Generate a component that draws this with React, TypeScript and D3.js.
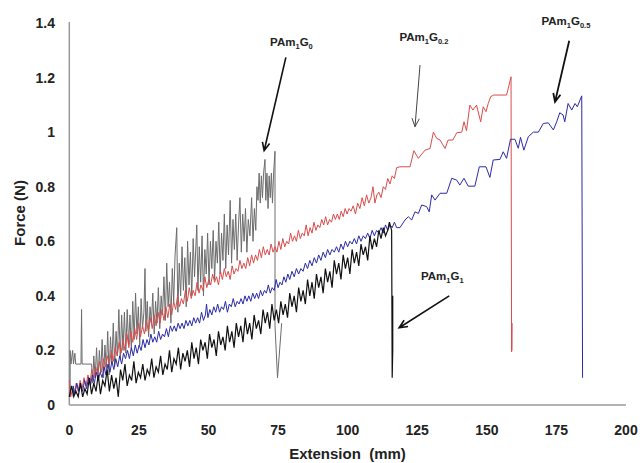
import * as d3 from "d3";

type Pt = [number, number];

// axis ticks
const xTicks = [0, 25, 50, 75, 100, 125, 150, 175, 200];
const yTicks = [0, 0.2, 0.4, 0.6, 0.8, 1, 1.2, 1.4];

// PAm1G0 (grey) – extension (mm), force (N)
const pam1g0: Pt[] = [
  [0.3, 0.03], [0.3, 0.2], [0.6, 0.15], [1.2, 0.2], [1.5, 0.15], [2.0, 0.19], [2.3, 0.15], [4.2, 0.15], [4.4, 0.35], [4.6, 0.15], [8.0, 0.15],
  [8.4, 0.08], [8.8, 0.18], [9.3, 0.1], [9.8, 0.21], [10.3, 0.09], [10.8, 0.2], [11.3, 0.12], [11.8, 0.24], [12.3, 0.1], [12.8, 0.22],
  [13.3, 0.13], [13.8, 0.27], [14.3, 0.11], [14.8, 0.25], [15.3, 0.15], [15.8, 0.3], [16.3, 0.14], [16.8, 0.27], [17.3, 0.18], [17.8, 0.35],
  [18.3, 0.17], [18.8, 0.33], [19.3, 0.2], [19.8, 0.34], [20.3, 0.19], [20.8, 0.35], [21.3, 0.22], [21.8, 0.33], [22.3, 0.2], [22.8, 0.38],
  [23.3, 0.24], [23.8, 0.41], [24.3, 0.26], [24.8, 0.36], [25.3, 0.22], [25.8, 0.39], [26.3, 0.28], [26.8, 0.34], [27.2, 0.5], [27.5, 0.27],
  [28.0, 0.38], [28.5, 0.25], [29.0, 0.36], [29.5, 0.3], [30.0, 0.41], [30.5, 0.26], [31.0, 0.38], [31.5, 0.3], [32.0, 0.43], [32.5, 0.28],
  [33.0, 0.4], [33.5, 0.33], [34.0, 0.47], [34.5, 0.31], [35.0, 0.52], [35.5, 0.36], [36.0, 0.45], [36.5, 0.3], [37.0, 0.5], [37.5, 0.38],
  [38.0, 0.55], [38.6, 0.65], [39.0, 0.34], [39.5, 0.52], [40.0, 0.4], [40.5, 0.58], [41.0, 0.42], [41.5, 0.54], [42.0, 0.36], [42.5, 0.6],
  [43.0, 0.44], [43.5, 0.56], [44.0, 0.4], [44.5, 0.61], [45.0, 0.47], [45.8, 0.66], [46.2, 0.42], [46.7, 0.58], [47.2, 0.45], [47.7, 0.62],
  [48.2, 0.4], [48.7, 0.57], [49.2, 0.48], [49.7, 0.63], [50.2, 0.44], [50.7, 0.6], [51.2, 0.5], [51.7, 0.64], [52.2, 0.46], [52.7, 0.6],
  [53.2, 0.52], [53.7, 0.67], [54.2, 0.48], [54.7, 0.63], [55.2, 0.53], [55.7, 0.7], [56.2, 0.5], [56.7, 0.66], [57.2, 0.55], [57.8, 0.75],
  [58.3, 0.52], [58.8, 0.68], [59.3, 0.57], [59.8, 0.7], [60.3, 0.53], [60.8, 0.66], [61.3, 0.76], [61.8, 0.56], [62.3, 0.7], [62.8, 0.6],
  [63.3, 0.72], [63.8, 0.56], [64.3, 0.68], [64.9, 0.62], [65.5, 0.76], [66.0, 0.6], [66.5, 0.72], [67.0, 0.64], [67.4, 0.8], [67.8, 0.75],
  [68.2, 0.85], [68.6, 0.74], [69.0, 0.84], [69.4, 0.76], [69.8, 0.85], [70.3, 0.9], [70.6, 0.75], [71.0, 0.85], [71.4, 0.72], [71.8, 0.84],
  [72.2, 0.76], [72.6, 0.85], [73.0, 0.74], [73.4, 0.85], [73.9, 0.93], [73.9, 0.29], [74.8, 0.1], [76.3, 0.3],
];

// PAm1G0.2 (red)
const pam1g02: Pt[] = [
  [0, 0.09], [0.5, 0.03], [1.2, 0.06], [1.8, 0.04], [2.5, 0.08], [3.2, 0.05], [3.9, 0.09], [4.6, 0.06], [5.3, 0.1], [6.0, 0.07],
  [6.7, 0.11], [7.4, 0.08], [8.1, 0.13], [8.8, 0.1], [9.5, 0.14], [10.2, 0.11], [10.9, 0.16], [11.6, 0.12], [12.3, 0.17], [13.0, 0.14],
  [13.7, 0.18], [14.4, 0.15], [15.1, 0.2], [15.8, 0.16], [16.5, 0.21], [17.2, 0.18], [17.9, 0.23], [18.6, 0.19], [19.3, 0.24], [20.0, 0.2],
  [20.7, 0.26], [21.4, 0.21], [22.1, 0.27], [22.8, 0.23], [23.5, 0.28], [24.2, 0.24], [24.9, 0.3], [25.6, 0.25], [26.3, 0.29], [27.0, 0.26],
  [27.7, 0.31], [28.4, 0.27], [29.1, 0.32], [29.8, 0.28], [30.5, 0.33], [31.2, 0.29], [31.9, 0.34], [32.6, 0.3], [33.3, 0.35], [34.0, 0.31],
  [34.7, 0.36], [35.4, 0.32], [36.1, 0.37], [36.8, 0.33], [37.5, 0.38], [38.2, 0.35], [38.9, 0.4], [39.6, 0.36], [40.3, 0.39], [41.0, 0.37],
  [41.7, 0.42], [42.4, 0.38], [43.1, 0.43], [43.8, 0.39], [44.5, 0.42], [45.2, 0.4], [45.9, 0.45], [46.6, 0.41], [47.3, 0.44], [48.0, 0.42],
  [48.7, 0.47], [49.4, 0.43], [50.1, 0.46], [50.8, 0.44], [51.5, 0.48], [52.2, 0.45], [52.9, 0.47], [53.6, 0.44], [54.3, 0.49], [55.0, 0.46],
  [55.7, 0.5], [56.4, 0.47], [57.1, 0.49], [57.8, 0.46], [58.5, 0.51], [59.2, 0.48], [59.9, 0.5], [60.6, 0.49], [61.3, 0.53], [62.0, 0.5],
  [62.7, 0.52], [63.4, 0.5], [64.1, 0.54], [64.8, 0.51], [65.5, 0.55], [66.2, 0.52], [66.9, 0.55], [67.6, 0.53], [68.3, 0.57], [69.0, 0.54],
  [69.7, 0.58], [70.4, 0.55], [71.1, 0.57], [71.8, 0.55], [72.5, 0.59], [73.2, 0.56], [73.9, 0.58], [74.6, 0.56], [75.3, 0.6], [76.0, 0.57],
  [76.7, 0.61], [77.4, 0.58], [78.1, 0.6], [78.8, 0.59], [79.5, 0.63], [80.2, 0.6], [80.9, 0.62], [81.6, 0.6], [82.3, 0.64], [83.0, 0.61],
  [83.7, 0.63], [84.4, 0.62], [85.1, 0.66], [85.8, 0.62], [86.5, 0.65], [87.2, 0.63], [87.9, 0.67], [88.6, 0.64], [89.3, 0.66], [90.0, 0.65],
  [90.7, 0.68], [91.4, 0.66], [92.1, 0.69], [92.8, 0.66], [93.5, 0.68], [94.2, 0.67], [94.9, 0.7], [95.6, 0.68], [96.3, 0.7], [97.0, 0.68],
  [97.7, 0.71], [98.4, 0.69], [99.1, 0.72], [99.8, 0.7], [100.5, 0.72], [101.2, 0.71], [102.0, 0.73], [102.8, 0.7], [103.6, 0.74], [104.4, 0.72],
  [105.2, 0.76], [106.0, 0.73], [106.8, 0.77], [107.6, 0.74], [108.4, 0.76], [109.1, 0.8], [109.8, 0.74], [110.5, 0.77], [111.2, 0.78], [112.0, 0.76],
  [112.8, 0.8], [113.6, 0.79], [114.4, 0.83], [115.2, 0.81], [116.0, 0.84], [116.8, 0.83], [117.6, 0.87],
  [118.8, 0.873], [122.4, 0.873], [123.8, 0.932], [125.4, 0.904], [127.8, 0.934], [129.6, 0.94], [130.8, 1.0], [132.0, 0.977], [133.2, 0.971],
  [135.0, 0.94], [136.1, 0.971], [137.8, 0.971], [139.2, 0.998], [141.0, 1.0], [141.8, 1.038], [142.7, 1.005], [143.9, 1.099], [145.0, 1.081],
  [146.3, 1.099], [147.8, 1.038], [148.7, 1.093], [149.7, 1.075], [150.5, 1.105], [151.4, 1.13], [152.5, 1.136], [157.1, 1.136], [158.0, 1.173],
  [158.7, 1.203], [158.9, 0.195], [159.0, 0.3], [159.0, 0.2],
];

// PAm1G0.5 (blue)
const pam1g05: Pt[] = [
  [1.4, 0.03], [1.4, 0.07], [2.0, 0.04], [2.7, 0.08], [3.4, 0.05], [4.1, 0.07], [4.8, 0.05], [5.5, 0.09], [6.2, 0.06], [6.9, 0.1],
  [7.6, 0.07], [8.3, 0.11], [9.0, 0.08], [9.7, 0.12], [10.4, 0.09], [11.1, 0.12], [11.8, 0.1], [12.5, 0.14], [13.2, 0.11], [13.9, 0.15],
  [14.6, 0.12], [15.3, 0.16], [16.0, 0.13], [16.7, 0.17], [17.4, 0.14], [18.1, 0.18], [18.8, 0.15], [19.5, 0.19], [20.2, 0.17], [20.9, 0.2],
  [21.6, 0.17], [22.3, 0.21], [23.0, 0.18], [23.7, 0.22], [24.4, 0.19], [25.1, 0.22], [25.8, 0.2], [26.5, 0.24], [27.2, 0.21], [27.9, 0.24],
  [28.6, 0.22], [29.3, 0.26], [30.0, 0.23], [30.7, 0.25], [31.4, 0.23], [32.1, 0.27], [32.8, 0.24], [33.5, 0.26], [34.2, 0.25], [34.9, 0.28],
  [35.6, 0.25], [36.3, 0.29], [37.0, 0.27], [37.7, 0.29], [38.4, 0.27], [39.1, 0.3], [39.8, 0.28], [40.5, 0.3], [41.2, 0.28], [41.9, 0.31],
  [42.6, 0.29], [43.3, 0.31], [44.0, 0.29], [44.7, 0.32], [45.4, 0.3], [46.1, 0.32], [46.8, 0.3], [47.5, 0.34], [48.2, 0.31], [48.9, 0.33],
  [49.3, 0.37], [49.8, 0.32], [50.5, 0.35], [51.2, 0.33], [51.9, 0.36], [52.6, 0.34], [53.3, 0.37], [54.0, 0.34], [54.7, 0.36], [55.4, 0.35],
  [56.1, 0.38], [56.8, 0.34], [57.5, 0.37], [58.2, 0.36], [58.9, 0.39], [59.6, 0.36], [60.3, 0.38], [61.0, 0.37], [61.7, 0.39], [62.4, 0.37],
  [63.1, 0.4], [63.8, 0.38], [64.5, 0.4], [65.2, 0.38], [65.9, 0.41], [66.6, 0.39], [67.3, 0.41], [68.0, 0.39], [68.7, 0.42], [69.4, 0.4],
  [70.1, 0.42], [70.8, 0.41], [71.5, 0.44], [72.2, 0.41], [72.9, 0.43], [73.6, 0.42], [74.3, 0.46], [75.0, 0.43], [75.7, 0.45], [76.4, 0.44],
  [77.1, 0.47], [77.8, 0.45], [78.5, 0.48], [79.2, 0.46], [80.0, 0.49], [80.8, 0.47], [81.6, 0.5], [82.4, 0.48], [83.2, 0.5], [84.0, 0.49],
  [84.8, 0.52], [85.6, 0.5], [86.4, 0.53], [87.2, 0.51], [88.0, 0.54], [88.8, 0.52], [89.6, 0.55], [90.4, 0.53], [91.2, 0.56], [92.0, 0.54],
  [92.8, 0.57], [93.6, 0.55], [94.4, 0.57], [95.2, 0.56], [96.0, 0.58], [96.8, 0.56], [97.6, 0.59], [98.4, 0.57], [99.2, 0.6], [100.0, 0.58],
  [100.8, 0.6], [101.6, 0.59], [102.4, 0.61], [103.2, 0.59], [104.0, 0.62], [104.8, 0.6], [105.6, 0.62], [106.4, 0.61], [107.2, 0.63], [108.0, 0.61],
  [108.8, 0.64], [109.6, 0.62], [110.4, 0.64], [111.2, 0.63], [112.0, 0.65], [112.8, 0.63], [113.6, 0.66], [114.4, 0.64], [115.2, 0.66], [116.0, 0.65],
  [116.8, 0.67], [117.6, 0.65],
  [118.8, 0.65], [120.6, 0.678], [121.8, 0.69], [123.0, 0.678], [124.2, 0.708], [125.4, 0.702], [126.6, 0.733], [128.4, 0.727], [129.3, 0.708],
  [130.2, 0.77], [131.4, 0.751], [133.2, 0.776], [135.6, 0.776], [137.4, 0.831], [139.2, 0.824], [140.3, 0.806], [141.8, 0.831], [143.3, 0.802],
  [145.7, 0.802], [147.3, 0.873], [149.7, 0.873], [151.1, 0.834], [152.3, 0.898], [154.7, 0.9], [155.9, 0.928], [157.1, 0.904], [158.5, 0.974],
  [160.1, 0.974], [161.3, 0.941], [162.1, 0.981], [163.3, 0.934], [164.9, 0.983], [166.7, 1.0], [168.5, 1.0], [170.3, 1.032], [172.1, 1.034],
  [173.9, 1.008], [175.1, 1.038], [176.2, 1.071], [177.4, 1.063], [178.0, 1.038], [179.2, 1.105], [180.5, 1.081], [181.7, 1.105], [182.5, 1.093],
  [184.1, 1.133], [184.4, 0.1],
];

// PAm1G1 (black)
const pam1g1: Pt[] = [
  [0, 0.03], [0.8, 0.07], [1.6, 0.03], [2.4, 0.05], [3.2, 0.03], [4.0, 0.08], [4.8, 0.03], [5.6, 0.06], [6.4, 0.04], [7.2, 0.1],
  [8.0, 0.04], [8.8, 0.08], [9.6, 0.05], [10.4, 0.11], [11.2, 0.04], [12.0, 0.09], [12.8, 0.07], [13.6, 0.13], [14.4, 0.05], [15.2, 0.11],
  [16.0, 0.06], [16.8, 0.1], [17.6, 0.03], [18.4, 0.13], [19.2, 0.09], [20.0, 0.15], [20.8, 0.07], [21.6, 0.11], [22.4, 0.09], [23.2, 0.16],
  [24.0, 0.08], [24.8, 0.12], [25.6, 0.1], [26.4, 0.15], [27.2, 0.09], [28.0, 0.13], [28.8, 0.11], [29.6, 0.17], [30.4, 0.1], [31.2, 0.14],
  [32.0, 0.12], [32.8, 0.18], [33.6, 0.11], [34.4, 0.15], [35.2, 0.13], [36.0, 0.2], [36.8, 0.12], [37.6, 0.17], [38.4, 0.15], [39.2, 0.21],
  [40.0, 0.13], [40.8, 0.19], [41.6, 0.16], [42.4, 0.2], [43.2, 0.14], [44.0, 0.23], [44.8, 0.17], [45.6, 0.21], [46.4, 0.15], [47.2, 0.24],
  [48.0, 0.2], [48.8, 0.23], [49.6, 0.17], [50.4, 0.26], [51.2, 0.21], [52.0, 0.24], [52.8, 0.18], [53.6, 0.27], [54.4, 0.22], [55.2, 0.25],
  [56.0, 0.2], [56.8, 0.29], [57.6, 0.23], [58.4, 0.27], [59.2, 0.21], [60.0, 0.3], [60.8, 0.25], [61.6, 0.29], [62.4, 0.23], [63.2, 0.32],
  [64.0, 0.26], [64.8, 0.3], [65.6, 0.24], [66.4, 0.33], [67.2, 0.28], [68.0, 0.31], [68.8, 0.26], [69.6, 0.35], [70.4, 0.3], [71.2, 0.34],
  [72.0, 0.28], [72.8, 0.37], [73.6, 0.31], [74.4, 0.35], [75.2, 0.3], [76.0, 0.38], [76.8, 0.33], [77.6, 0.37], [78.4, 0.32], [79.2, 0.41],
  [80.0, 0.36], [80.8, 0.4], [81.6, 0.34], [82.4, 0.43], [83.2, 0.38], [84.0, 0.42], [84.8, 0.37], [85.6, 0.46], [86.4, 0.4], [87.2, 0.45],
  [88.0, 0.39], [88.8, 0.48], [89.6, 0.43], [90.4, 0.47], [91.2, 0.41], [92.0, 0.5], [92.8, 0.45], [93.6, 0.49], [94.4, 0.43], [95.2, 0.53],
  [96.0, 0.48], [96.8, 0.52], [97.6, 0.46], [98.4, 0.55], [99.2, 0.5], [100.0, 0.54], [100.8, 0.48], [101.6, 0.57], [102.4, 0.52], [103.2, 0.56],
  [104.0, 0.51], [104.8, 0.59], [105.6, 0.55], [106.4, 0.58], [107.2, 0.53], [108.0, 0.62], [108.8, 0.57], [109.6, 0.61], [110.4, 0.58], [111.2, 0.64],
  [112.0, 0.61], [112.8, 0.65], [113.6, 0.62], [114.4, 0.64], [115.0, 0.67], [115.8, 0.64], [116.0, 0.1], [116.2, 0.2], [116.2, 0.4],
];

const series = [
  { name: "PAm1G0", data: pam1g0, color: "#6c6c6c", width: 1 },
  { name: "PAm1G0.2", data: pam1g02, color: "#d94c4c", width: 1 },
  { name: "PAm1G0.5", data: pam1g05, color: "#2a2aa6", width: 1 },
  { name: "PAm1G1", data: pam1g1, color: "#111111", width: 1.2 },
];

// callouts, in data units
const notes = [
  { sub: "0", at: [79.8, 1.315], from: [77.8, 1.274], to: [70.0, 0.932], width: 1.6, color: "#111" },
  { sub: "0.2", at: [127.4, 1.334], from: [126.0, 1.246], to: [124.2, 1.02], width: 1, color: "#444" },
  { sub: "0.5", at: [178.4, 1.392], from: [179.6, 1.335], to: [174.5, 1.111], width: 1.8, color: "#111" },
  { sub: "1", at: [134, 0.458], from: [136.5, 0.4], to: [118.5, 0.283], width: 1.6, color: "#111" },
];

const width = 640;
const height = 463;
const marginLeft = 69.3;
const marginRight = 14;
const marginTop = 23;
const marginBottom = 58;
const font = "'Liberation Sans', Arial, sans-serif";

function arrowPath(x1: number, y1: number, x2: number, y2: number) {
  const a = Math.atan2(y2 - y1, x2 - x1);
  const len = 9;
  const spread = 0.42;
  const ax1 = x2 - len * Math.cos(a - spread);
  const ay1 = y2 - len * Math.sin(a - spread);
  const ax2 = x2 - len * Math.cos(a + spread);
  const ay2 = y2 - len * Math.sin(a + spread);
  return `M${x1},${y1}L${x2},${y2}M${ax1},${ay1}L${x2},${y2}L${ax2},${ay2}`;
}

export default function App() {
  const x = d3.scaleLinear().domain([0, 200]).range([marginLeft, width - marginRight]);
  const y = d3.scaleLinear().domain([0, 1.4]).range([height - marginBottom, marginTop]);
  const line = d3
    .line<Pt>()
    .x((d) => x(d[0]))
    .y((d) => y(d[1]));

  return (
    <div style={{ position: "absolute", left: 0, top: 0 }}>
      <svg width={width} height={height} viewBox={`0 0 ${width} ${height}`} style={{ display: "block", background: "#fff" }}>
        {/* axes */}
        <line x1={x(0)} x2={x(0)} y1={y(1.4) - 1} y2={y(0)} stroke="#9a9a9a" strokeWidth={1.5} />
        <line x1={x(0)} x2={x(200)} y1={y(0)} y2={y(0)} stroke="#9a9a9a" strokeWidth={1.5} />

        {yTicks.map((t) => (
          <text key={t} x={55} y={y(t) + 5} textAnchor="end" fontFamily={font} fontWeight="bold" fontSize={14} fill="#222">
            {t}
          </text>
        ))}
        {xTicks.map((t) => (
          <text key={t} x={x(t)} y={435} textAnchor="middle" fontFamily={font} fontWeight="bold" fontSize={14} fill="#222">
            {t}
          </text>
        ))}

        <text transform="translate(25,213) rotate(-90)" textAnchor="middle" fontFamily={font} fontWeight="bold" fontSize={15} fill="#222">
          Force (N)
        </text>
        <text x={347.5} y={458.5} textAnchor="middle" fontFamily={font} fontWeight="bold" fontSize={15} fill="#222" style={{ whiteSpace: "pre" }}>
          {"Extension  (mm)"}
        </text>

        {/* curves */}
        {series.map((s) => (
          <path key={s.name} d={line(s.data) ?? ""} fill="none" stroke={s.color} strokeWidth={s.width} />
        ))}

        {/* callouts */}
        {notes.map((n) => (
          <g key={n.sub}>
            <path
              d={arrowPath(x(n.from[0]), y(n.from[1]), x(n.to[0]), y(n.to[1]))}
              fill="none"
              stroke={n.color}
              strokeWidth={n.width}
            />
            <text x={x(n.at[0])} y={y(n.at[1])} textAnchor="middle" fontFamily={font} fontWeight="bold" fontSize={11.5} fill="#222">
              <tspan>PAm</tspan>
              <tspan fontSize={7.5} dy={3}>1</tspan>
              <tspan dy={-3}>G</tspan>
              <tspan fontSize={7.5} dy={3}>{n.sub}</tspan>
            </text>
          </g>
        ))}
      </svg>
    </div>
  );
}
